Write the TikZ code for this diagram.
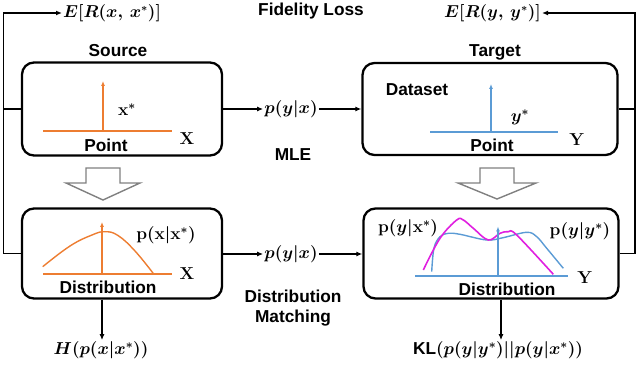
\documentclass[tikz,border=0pt]{standalone}
\usepackage[no-math]{fontspec}
\setmainfont{Liberation Sans}
\usetikzlibrary{arrows.meta}
\definecolor{orng}{RGB}{237,125,49}
\definecolor{blu}{RGB}{91,155,213}
\definecolor{mag}{RGB}{224,32,224}
\definecolor{gry}{RGB}{128,128,128}
\newcommand\dfont{\fontsize{17.28}{20}\selectfont\bfseries\boldmath}
\begin{document}
\begin{tikzpicture}[x=1pt,y=-1pt,
  every node/.style={font=\dfont, inner sep=1pt},
  panel/.style={draw, line width=2.3pt, rounded corners=12pt, inner sep=0pt},
  conn/.style={line width=1.4pt, -{Latex[length=6pt,width=5pt]}},
  wire/.style={line width=1.4pt},
  spike/.style={line width=1.5pt, -{Latex[length=5pt,width=4pt]}},
  blk/.style={draw=gry, line width=1.4pt, fill=white, line join=miter}]
\useasboundingbox (0,0) rectangle (640,366);

% panels
\node[panel, minimum width=200pt, minimum height=93pt] (src) at (122,109) {};
\node[panel, minimum width=255pt, minimum height=92pt] (tgt) at (490,109) {};
\node[panel, minimum width=200pt, minimum height=90pt] (srcd) at (122,253.5) {};
\node[panel, minimum width=255pt, minimum height=90pt] (tgtd) at (491,253.5) {};

% titles
\node (srct) at (118,51) {Source};
\node (tgtt) at (495,52) {Target};
\node (fid) at (311,11) {Fidelity Loss};
\node (mle) at (293,155) {MLE};
\node[align=center] (dm) at (293,308) {Distribution\\Matching};

% top source content
\coordinate (sa0) at (43,131);
\coordinate (sa1) at (172,131);
\coordinate (sv0) at (103,131);
\coordinate (sv1) at (103,81);
\draw[orng, wire] (sa0) -- (sa1);
\draw[orng, spike] (sv0) -- (sv1);
\node (xs) at (127,110) {$\mathbf{x}^*$};
\node (pt1) at (106,145) {Point};
\node (X1) at (187,139) {$\mathbf{X}$};

% top target content
\coordinate (ta0) at (430,132);
\coordinate (ta1) at (558,132);
\coordinate (tv0) at (491,132);
\coordinate (tv1) at (491,84);
\draw[blu, wire] (ta0) -- (ta1);
\draw[blu, spike] (tv0) -- (tv1);
\node (ds) at (417,90) {Dataset};
\node (ys) at (520,117) {$y^*$};
\node (pt2) at (492,145) {Point};
\node (Y1) at (577,140) {$\mathbf{Y}$};

% bottom source content
\coordinate (ba0) at (43,274);
\coordinate (ba1) at (172,274);
\coordinate (bv0) at (102,274);
\coordinate (bv1) at (102,222);
\draw[orng, wire] (ba0) -- (ba1);
\draw[orng, wire, smooth, tension=0.7] plot coordinates {(42.7,266.7) (70,246) (92,235) (105,231.7) (118,235.5) (135,251) (153.3,273.5)};
\draw[orng, spike] (bv0) -- (bv1);
\node (pxx) at (166,235) {$\mathbf{p}(\mathbf{x}|\mathbf{x}^*)$};
\node (X2) at (187,274) {$\mathbf{X}$};
\node (dist1) at (108,287) {Distribution};

% bottom target content
\coordinate (da0) at (415,276);
\coordinate (da1) at (568,276);
\coordinate (dv0) at (498,276);
\coordinate (dv1) at (498,226.5);
\draw[blu, wire] (da0) -- (da1);
\draw[blu, wire, smooth, tension=0.6] plot coordinates {(431.7,271.7) (434,248) (440,236.7) (448.3,233.3) (460,234.3) (486.7,240) (503,237.7) (526.7,232.3) (536.7,236.7) (546.7,248.3) (563.3,268.3)};
\draw[mag, line width=1.6pt, smooth, tension=0.6] plot coordinates {(423.3,270) (440,238.3) (456.7,220) (463.3,220) (473.3,228.3) (488.3,240) (500,233.3) (508.3,231.7) (516.7,235) (553.3,274.3)};
\draw[blu, spike] (dv0) -- (dv1);
\node (pyxs) at (408,228) {$\mathbf{p}(y|\mathbf{x}^*)$};
\node (pyys) at (580,231) {$\mathbf{p}(y|y^*)$};
\node (Y2) at (585,278) {$\mathbf{Y}$};
\node (dist2) at (507,289) {Distribution};

% block arrows
\draw[blk] (86,168) -- (120,168) -- (120,183) -- (140,183) -- (103,200) -- (66,183) -- (86,183) -- cycle;
\draw[blk] (480,168) -- (514,168) -- (514,183) -- (536,183) -- (497,199) -- (458,183) -- (480,183) -- cycle;

% middle connectors
\node (pyx1) at (291,109) {$p(y|x)$};
\node (pyx2) at (291,254) {$p(y|x)$};
\draw[conn] (src.east |- pyx1) -- (pyx1.west);
\draw[conn] (pyx1.east) -- (tgt.west |- pyx1);
\draw[conn] (srcd.east |- pyx2) -- (pyx2.west);
\draw[conn] (pyx2.east) -- (tgtd.west |- pyx2);

% fidelity feedback
\node[anchor=west, font=\fontsize{16}{20}\selectfont\boldmath] (erx) at (62,13) {$E[R(x,\,x^*)]$};
\node[anchor=east, font=\fontsize{16}{20}\selectfont\boldmath] (ery) at (542,13) {$E[R(y,\,y^*)]$};
\coordinate (lx) at (3.5,0);
\coordinate (rx) at (635,0);
\draw[wire] (src.west) -- (src.west -| lx);
\draw[conn] (srcd.west) -- (srcd.west -| lx) -- (lx |- erx.west) -- (erx.west);
\draw[wire] (tgt.east) -- (tgt.east -| rx);
\draw[conn] (tgtd.east) -- (tgtd.east -| rx) -- (rx |- ery.east) -- (ery.east);

% outputs
\node (H) at (101,350) {$H\bigl(p(x|x^*)\bigr)$};
\node (KL) at (498,350) {KL$\bigl(p(y|y^*)||p(y|x^*)\bigr)$};
\coordinate (kx) at (501,0);
\draw[conn] (srcd.south -| bv0) -- (H.north -| bv0);
\draw[conn] (tgtd.south -| kx) -- (KL.north -| kx);
\end{tikzpicture}
\end{document}
